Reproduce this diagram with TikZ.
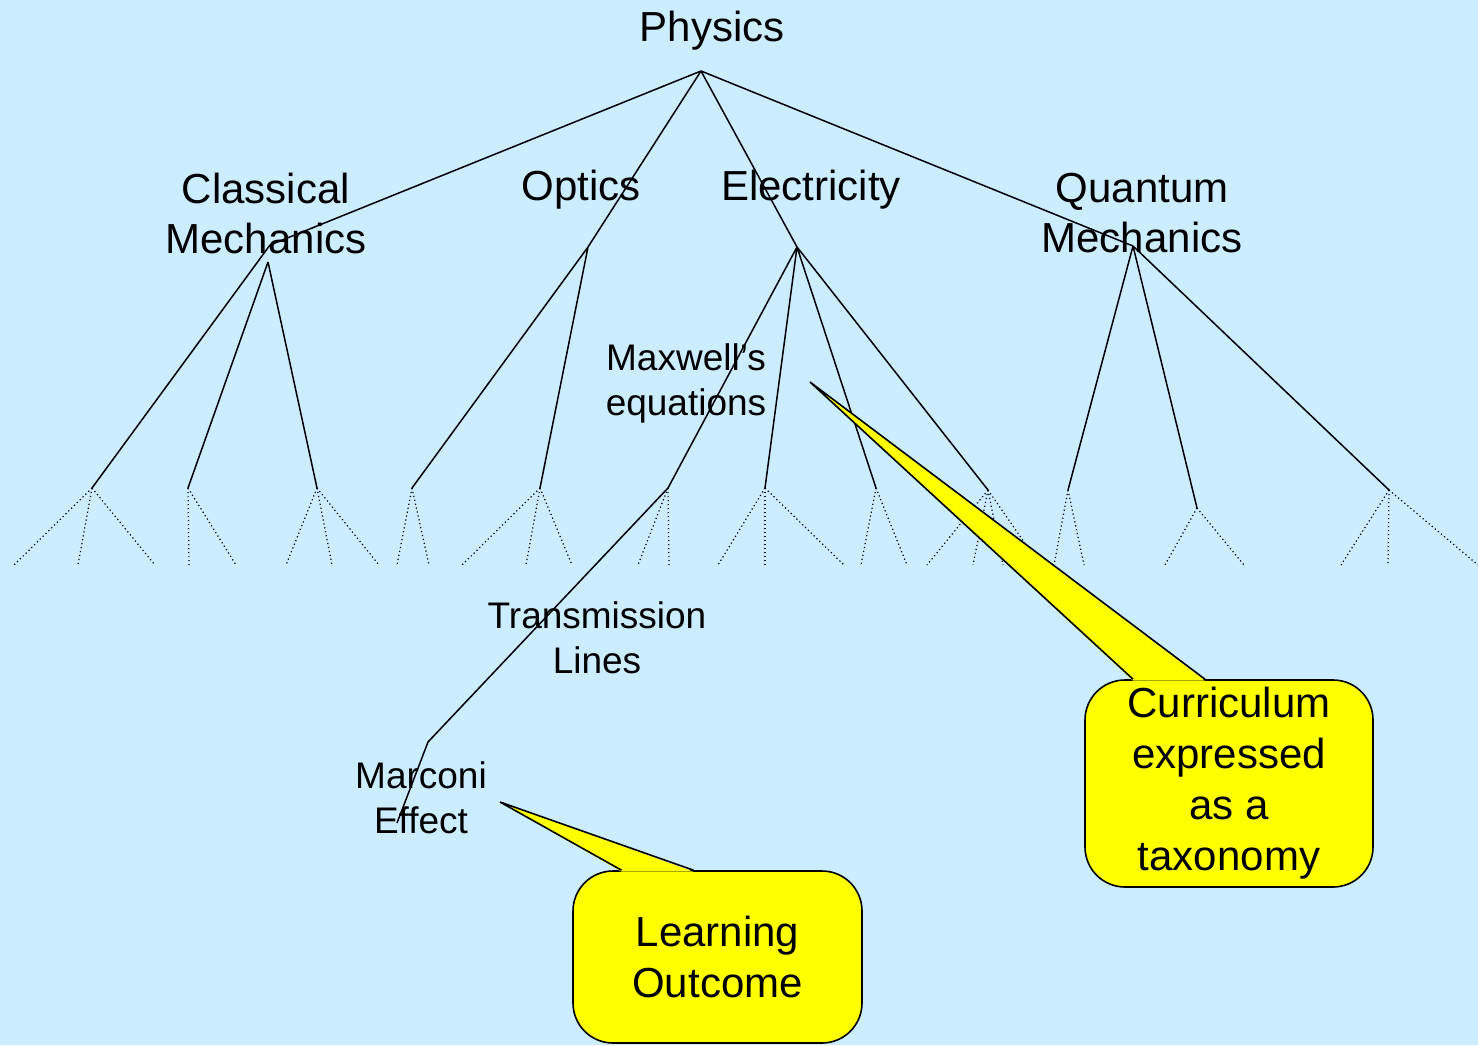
\documentclass[tikz,border=0pt]{standalone}
\usepackage{fontspec}
\setmainfont{Liberation Sans}
\usetikzlibrary{positioning,calc}
\definecolor{slideblue}{HTML}{CCECFF}
\definecolor{noteyellow}{HTML}{FFFF00}
\tikzset{
  topic/.style={font=\fontsize{42}{50}\selectfont,align=center,inner sep=0pt},
  subtopic/.style={font=\fontsize{37}{45}\selectfont,align=center,inner sep=0pt},
  branch/.style={line width=1.5pt,draw=black},
  leaf/.style={line width=1.2pt,dash pattern=on 1.2pt off 2.8pt,draw=black},
  notebox/.style={rectangle,rounded corners=40pt,draw=black,line width=1.6pt,fill=noteyellow,align=center,font=\fontsize{42}{51}\selectfont,inner sep=0pt},
  notetail/.style={line width=1.6pt,draw=black,line join=miter}
}

\begin{document}
\begin{tikzpicture}[x=1pt,y=-1pt]
  \fill[slideblue] (0,0) rectangle (1478,1045);
  \useasboundingbox (0,0) rectangle (1478,1045);

  % branch points of the tree
  \coordinate (root) at (701,71);
  \coordinate (cm) at (270,245);
  \coordinate (cmb) at (268,262);
  \coordinate (op) at (588,247);
  \coordinate (el) at (797,247);
  \coordinate (qm) at (1133,246);
  \coordinate (cm1) at (92,488);
  \coordinate (cm2) at (188,488);
  \coordinate (cm3) at (317,488);
  \coordinate (op1) at (412,488);
  \coordinate (op2) at (540,488);
  \coordinate (el1) at (668,488);
  \coordinate (el2) at (765,488);
  \coordinate (el3) at (876,488);
  \coordinate (el4) at (988,490);
  \coordinate (qm1) at (1068,490);
  \coordinate (qm2) at (1197,508);
  \coordinate (qm3) at (1389,490);
  \coordinate (tl) at (428,742);
  \coordinate (me) at (397,823);

  \draw[branch] (root) -- (cm) (root) -- (op) (root) -- (el) (root) -- (qm);
  \draw[branch] (cm) -- (cm1) (cmb) -- (cm2) (cmb) -- (cm3);
  \draw[branch] (op) -- (op1) (op) -- (op2);
  \draw[branch] (el) -- (el1) (el) -- (el2) (el) -- (el3) (el) -- (el4);
  \draw[branch] (qm) -- (qm1) (qm) -- (qm2) (qm) -- (qm3);
  \draw[branch] (el1) -- (tl) -- (me);

  % dotted leaves
  \foreach \b/\x [count=\i] in {cm1/14,cm1/78,cm1/155,cm2/189,cm2/236,cm3/286,cm3/332,cm3/379,
      op1/397,op1/429,op2/462,op2/526,op2/572,el1/638,el1/669,el2/718,el2/765,el2/844,
      el3/861,el3/907,el4/927,el4/973,el4/1003,el4/1040,qm1/1054,qm1/1084,
      qm2/1165,qm2/1244,qm3/1341,qm3/1388,qm3/1478}{
    \coordinate (lf\i) at (\x,565);
    \draw[leaf] (\b) -- (lf\i);
  }

  \node[topic] (physics) at (712,31) {Physics};
  \node[topic] (classical) at (266,213) {Classical\\Mechanics};
  \node[topic] (optics) at (581,190) {Optics};
  \node[topic] (electricity) at (811,190) {Electricity};
  \node[topic] (quantum) at (1142,213) {Quantum\\Mechanics};
  \node[subtopic] (maxwell) at (686,383) {Maxwell’s\\equations};
  \node[subtopic] (transmission) at (597,638) {Transmission\\Lines};
  \node[subtopic] (marconi) at (421,798) {Marconi\\Effect};

  % callouts
  \node[notebox,minimum width=288pt,minimum height=207pt] (curriculum) at (1229,783.5)
    {Curriculum\\expressed\\as a\\taxonomy};
  \coordinate (curtip) at (810,382);
  \fill[noteyellow] ([xshift=-96pt,yshift=-1.5pt]curriculum.north) -- (curtip)
    -- ([xshift=-24pt,yshift=-1.5pt]curriculum.north) -- cycle;
  \draw[notetail] ([xshift=-96pt]curriculum.north) -- (curtip)
    -- ([xshift=-24pt]curriculum.north);

  \node[notebox,minimum width=289pt,minimum height=172pt] (outcome) at (717.5,957)
    {Learning\\Outcome};
  \coordinate (outtip) at (500,802);
  \fill[noteyellow] ([xshift=-96pt,yshift=-1.5pt]outcome.north) -- (outtip)
    -- ([xshift=-24pt,yshift=-1.5pt]outcome.north) -- cycle;
  \draw[notetail] ([xshift=-96pt]outcome.north) -- (outtip)
    -- ([xshift=-24pt]outcome.north);
\end{tikzpicture}
\end{document}
